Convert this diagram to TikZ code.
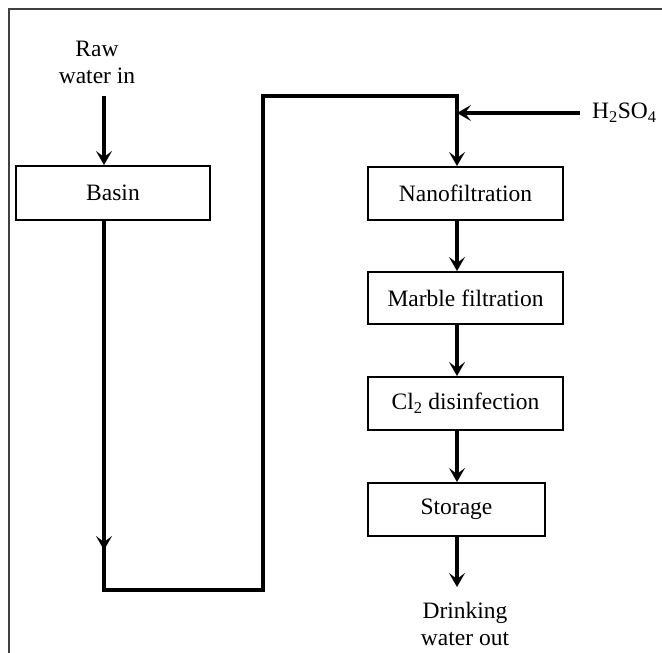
\documentclass[tikz,border=0pt]{standalone}
\usepackage{fontspec}
\setmainfont{Liberation Serif}
\usetikzlibrary{arrows.meta}
\begin{document}
\begin{tikzpicture}[x=1pt,y=-1pt,
    unitbox/.style={draw,line width=2pt,inner sep=0pt,
        font=\fontsize{23.5}{27}\selectfont},
    flow/.style={line width=3.2pt,line join=miter},
    flowarr/.style={flow,-{Stealth[length=14pt,width=16pt,inset=6pt]}},
    lbl/.style={align=center,inner sep=0pt,font=\fontsize{23.5}{27}\selectfont}]
        % page and outer frame
        \useasboundingbox (0,0) rectangle (662,653);
        \draw[line width=1.6pt,black!75] (9,653) -- (9,9) -- (662,9);

        % process units
        \node[unitbox,minimum width=194pt,minimum height=54pt] (basin) at (113,193) {Basin};
        \node[unitbox,minimum width=195pt,minimum height=53pt] (nano) at (465.5,193.5) {Nanofiltration};
        \node[unitbox,minimum width=195pt,minimum height=52pt] (marble) at (465.5,298) {Marble filtration};
        \node[unitbox,minimum width=195pt,minimum height=53pt] (chlor) at (465.5,403.5) {Cl\textsubscript{2} disinfection};
        \node[unitbox,minimum width=177pt,minimum height=53pt] (storage) at (456.5,509.5) {Storage};

        % texts
        \node[lbl] (rawin) at (97,62) {Raw\\water in};
        \node[lbl] (drinkout) at (465,624) {Drinking\\water out};
        \node[lbl,anchor=west] (acid) at (592,113) {H\textsubscript{2}SO\textsubscript{4}};

        % corners of the pipe
        \coordinate (rawtop) at (104,96);
        \coordinate (mid) at (104,550);
        \coordinate (low1) at (104,590);
        \coordinate (low2) at (263,590);
        \coordinate (up1) at (263,96);
        \coordinate (up2) at (457,96);
        \coordinate (dose) at (580,113);
        \coordinate (outend) at (457,587);

        % draw arrow
        \draw[flowarr] (rawtop) -- (rawtop |- basin.north);
        \draw[flowarr] (rawtop |- basin.south) -- (mid);
        \draw[flowarr] (rawtop |- basin.south) -- (low1) -- (low2) -- (up1) -- (up2) -- (up2 |- nano.north);
        \draw[flowarr] (dose) -- (up2 |- dose);
        \draw[flowarr] (up2 |- nano.south) -- (up2 |- marble.north);
        \draw[flowarr] (up2 |- marble.south) -- (up2 |- chlor.north);
        \draw[flowarr] (up2 |- chlor.south) -- (up2 |- storage.north);
        \draw[flowarr] (up2 |- storage.south) -- (outend);
\end{tikzpicture}
\end{document}
